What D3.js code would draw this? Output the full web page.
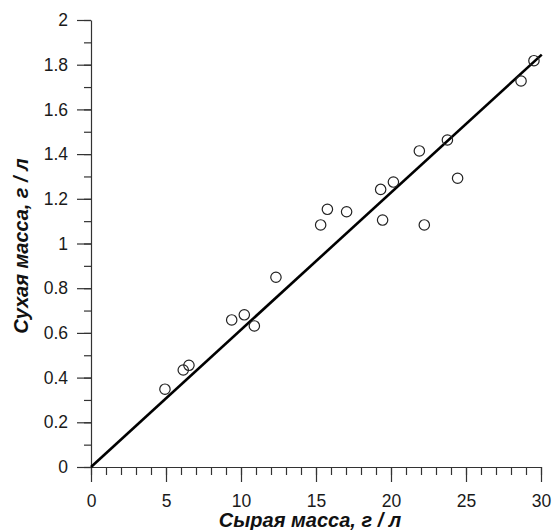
<!DOCTYPE html>
<html>
<head>
<meta charset="utf-8">
<script src="https://cdn.jsdelivr.net/npm/d3@7"></script>
<style>
    body { margin: 0; background: #fff; }
    svg { display: block; }
    .tick text { font-family: "Liberation Sans", Arial, sans-serif; font-size: 17.5px; fill: #1a1a1a; }
    .title { font-family: "Liberation Sans", Arial, sans-serif; font-size: 20px; font-weight: bold; font-style: italic; fill: #111; }
</style>
</head>
<body>
<div id="chart"></div>
<script>
// measured points: wet mass (g/l) vs dry mass (g/l)
const wetMass = [4.93, 6.15, 6.53, 9.38, 10.22, 10.89, 12.33, 15.31, 15.76, 17.04,
    19.31, 19.44, 20.16, 21.89, 22.22, 23.76, 24.44, 28.67, 29.53];
const dryMass = [0.348, 0.434, 0.455, 0.658, 0.681, 0.631, 0.849, 1.083, 1.153, 1.142,
    1.242, 1.105, 1.275, 1.414, 1.083, 1.463, 1.292, 1.727, 1.818];

// regression line end points
const fitX = [0, 30.05];
const fitY = [0, 1.845];

const xTicks = [0, 5, 10, 15, 20, 25, 30];
const yTicks = [0, 0.2, 0.4, 0.6, 0.8, 1, 1.2, 1.4, 1.6, 1.8, 2];

const width = 553, height = 530;
const margin = { left: 91, right: 12, top: 20, bottom: 63 };

const svg = d3.select("#chart")
    .append("svg")
    .attr("width", width)
    .attr("height", height);

const x = d3.scaleLinear().domain([0, 30]).range([margin.left, width - margin.right]);
const y = d3.scaleLinear().domain([0, 2]).range([height - margin.bottom, margin.top]);

// minor ticks first, then major ones on top
svg.append("g")
    .attr("transform", `translate(0,${y(0)})`)
    .call(d3.axisBottom(x).tickValues(d3.range(0, 31, 1)).tickSize(8).tickFormat(""))
    .call(g => g.select(".domain").remove());

svg.append("g")
    .attr("transform", `translate(${x(0)},0)`)
    .call(d3.axisLeft(y).tickValues(d3.range(0, 21, 1).map(d => d / 10)).tickSize(7).tickFormat(""))
    .call(g => g.select(".domain").remove());

const xAxis = svg.append("g")
    .attr("transform", `translate(0,${y(0)})`)
    .call(d3.axisBottom(x).tickValues(xTicks).tickSize(15).tickPadding(12.5).tickSizeOuter(0).tickFormat(d3.format("d")));

const yAxis = svg.append("g")
    .attr("transform", `translate(${x(0)},0)`)
    .call(d3.axisLeft(y).tickValues(yTicks).tickSize(14).tickPadding(9).tickSizeOuter(0).tickFormat(d => String(d)));

svg.selectAll(".domain, .tick line").attr("stroke", "#333").attr("stroke-width", 1.2);

// fit line
svg.append("line")
    .attr("x1", x(fitX[0])).attr("y1", y(fitY[0]))
    .attr("x2", x(fitX[1])).attr("y2", y(fitY[1]))
    .attr("stroke", "#000")
    .attr("stroke-width", 2.6);

svg.append("g")
    .selectAll("circle")
    .data(wetMass)
    .enter().append("circle")
    .attr("cx", d => x(d))
    .attr("cy", (d, i) => y(dryMass[i]))
    .attr("r", 5.2)
    .attr("fill", "none")
    .attr("stroke", "#222")
    .attr("stroke-width", 1.2);

svg.append("text")
    .attr("class", "title")
    .attr("x", 310)
    .attr("y", 527)
    .attr("text-anchor", "middle")
    .text("Сырая масса, г / л");

svg.append("text")
    .attr("class", "title")
    .attr("transform", "translate(28,246) rotate(-90)")
    .attr("text-anchor", "middle")
    .text("Сухая масса, г / л");
</script>
</body>
</html>
